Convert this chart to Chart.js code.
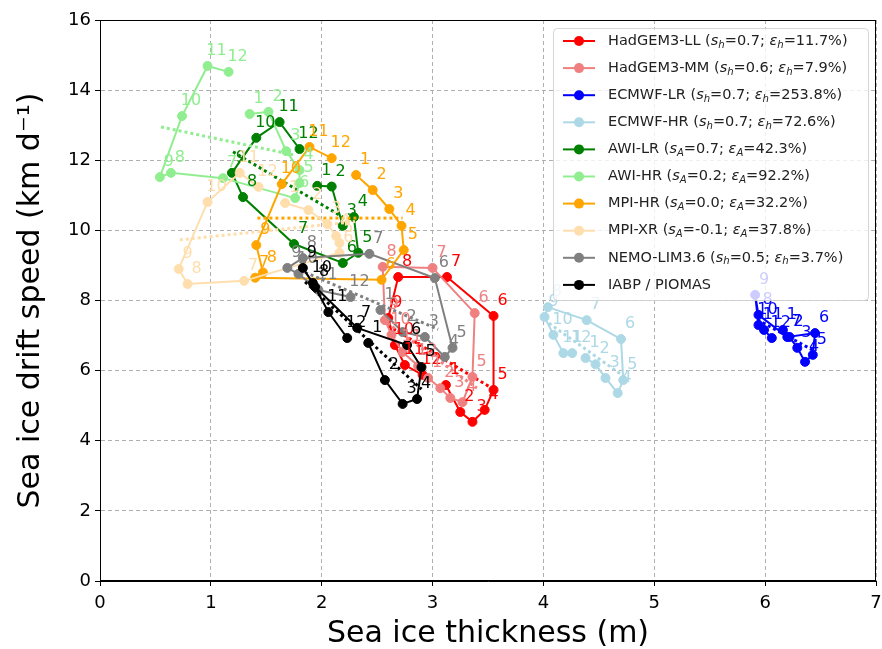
<!DOCTYPE html>
<html>
<head>
<meta charset="utf-8">
<script src="https://cdn.jsdelivr.net/npm/chart.js@4.4.1/dist/chart.umd.min.js"></script>
<style>
html, body { margin: 0; padding: 0; background: #fff; }
#wrap { width: 882px; height: 649px; }
</style>
</head>
<body>
<div id="wrap"><canvas id="chart" width="882" height="649"></canvas></div>
<script>
// month of each point, Jan..Dec
const months = [1, 2, 3, 4, 5, 6, 7, 8, 9, 10, 11, 12];

// thickness (m) and drift speed (km/d) per model, Jan..Dec
const hadLL_h = [3.12, 3.25, 3.36, 3.47, 3.55, 3.55, 3.13, 2.69, 2.60, 2.66, 2.75, 2.91];
const hadLL_v = [5.59, 4.82, 4.54, 4.88, 5.45, 7.56, 8.67, 8.67, 7.50, 6.73, 6.16, 5.88];
const hadMM_h = [2.96, 3.07, 3.16, 3.27, 3.36, 3.38, 3.00, 2.55, 2.57, 2.63, 2.73, 2.87];
const hadMM_v = [5.79, 5.50, 5.22, 5.10, 5.82, 7.64, 8.93, 8.96, 7.44, 7.02, 6.53, 6.13];
const ecLR_h = [6.16, 6.22, 6.29, 6.36, 6.43, 6.45, 6.20, 5.94, 5.91, 5.94, 5.99, 6.06];
const ecLR_v = [7.16, 6.96, 6.65, 6.25, 6.45, 7.07, 6.96, 7.59, 8.16, 7.30, 7.16, 6.93];
const ecHR_h = [4.38, 4.47, 4.56, 4.67, 4.72, 4.70, 4.39, 4.04, 4.01, 4.09, 4.18, 4.26];
const ecHR_v = [6.36, 6.18, 5.79, 5.36, 5.73, 6.90, 7.44, 7.81, 7.53, 7.02, 6.50, 6.50];
const awiLR_h = [1.96, 2.09, 2.19, 2.29, 2.33, 2.19, 1.75, 1.29, 1.19, 1.41, 1.62, 1.80];
const awiLR_v = [11.27, 11.25, 10.13, 10.38, 9.36, 9.07, 9.61, 10.95, 11.64, 12.64, 13.09, 12.32];
const awiHR_h = [1.35, 1.52, 1.68, 1.80, 1.80, 1.76, 1.11, 0.64, 0.54, 0.74, 0.97, 1.16];
const awiHR_v = [13.32, 13.38, 12.26, 11.72, 11.35, 10.92, 11.49, 11.64, 11.52, 13.26, 14.69, 14.52];
const mpiHR_h = [2.31, 2.46, 2.61, 2.72, 2.74, 2.54, 1.40, 1.47, 1.41, 1.64, 1.89, 2.09];
const mpiHR_v = [11.58, 11.15, 10.61, 10.13, 9.44, 8.59, 8.65, 8.80, 9.58, 11.32, 12.38, 12.06];
const mpiXR_h = [1.67, 1.88, 2.05, 2.13, 2.16, 2.16, 1.30, 0.79, 0.71, 0.97, 1.26, 1.43];
const mpiXR_v = [10.78, 10.58, 10.18, 9.84, 9.64, 9.36, 8.56, 8.47, 8.90, 10.81, 11.64, 11.24];
const nemo_h = [2.53, 2.73, 2.93, 3.11, 3.18, 3.02, 2.43, 1.83, 1.69, 1.79, 1.97, 2.26];
const nemo_v = [7.73, 7.10, 6.96, 6.39, 6.65, 8.64, 9.33, 9.21, 8.93, 8.76, 8.30, 8.10];
const iabp_h = [2.42, 2.57, 2.73, 2.86, 2.90, 2.77, 2.32, 1.94, 1.83, 1.92, 2.06, 2.23];
const iabp_v = [6.79, 5.73, 5.05, 5.19, 6.10, 6.73, 7.22, 8.39, 8.93, 8.50, 7.67, 6.93];

// fitted lines: end points (thickness, speed)
const fitLL_h = [2.60, 3.55], fitLL_v = [7.28, 5.47];
const fitMM_h = [2.55, 3.40], fitMM_v = [7.45, 5.50];
const fitEcLR_h = [5.93, 6.45], fitEcLR_v = [7.45, 6.55];
const fitEcHR_h = [4.05, 4.72], fitEcHR_v = [7.35, 5.85];
const fitAwiLR_h = [1.20, 2.19], fitAwiLR_v = [12.24, 10.38];
const fitAwiHR_h = [0.55, 1.75], fitAwiHR_v = [12.95, 12.15];
const fitMpiHR_h = [1.42, 2.73], fitMpiHR_v = [10.35, 10.35];
const fitMpiXR_h = [0.72, 2.30], fitMpiXR_v = [9.73, 10.25];
const fitNemo_h = [1.80, 3.05], fitNemo_v = [8.87, 7.18];
const fitIabp_h = [1.85, 2.90], fitIabp_v = [8.53, 5.47];

// legend
const names = ['HadGEM3-LL', 'HadGEM3-MM', 'ECMWF-LR', 'ECMWF-HR', 'AWI-LR', 'AWI-HR', 'MPI-HR', 'MPI-XR', 'NEMO-LIM3.6', 'IABP / PIOMAS'];
const statSym = ['h', 'h', 'h', 'h', 'A', 'A', 'A', 'A', 'h', null];
const statS = ['0.7', '0.6', '0.7', '0.7', '0.7', '0.2', '0.0', '-0.1', '0.5', null];
const statE = ['11.7', '7.9', '253.8', '72.6', '42.3', '92.2', '32.2', '37.8', '3.7', null];

const xTicks = [0, 1, 2, 3, 4, 5, 6, 7];
const yTicks = [0, 2, 4, 6, 8, 10, 12, 14, 16];

const colors = ['#ff0000', '#f08080', '#0000ff', '#add8e6', '#008000', '#90ee90', '#ffa500', '#ffdead', '#808080', '#000000'];

const series = [
  [hadLL_h, hadLL_v, fitLL_h, fitLL_v],
  [hadMM_h, hadMM_v, fitMM_h, fitMM_v],
  [ecLR_h, ecLR_v, fitEcLR_h, fitEcLR_v],
  [ecHR_h, ecHR_v, fitEcHR_h, fitEcHR_v],
  [awiLR_h, awiLR_v, fitAwiLR_h, fitAwiLR_v],
  [awiHR_h, awiHR_v, fitAwiHR_h, fitAwiHR_v],
  [mpiHR_h, mpiHR_v, fitMpiHR_h, fitMpiHR_v],
  [mpiXR_h, mpiXR_v, fitMpiXR_h, fitMpiXR_v],
  [nemo_h, nemo_v, fitNemo_h, fitNemo_v],
  [iabp_h, iabp_v, fitIabp_h, fitIabp_v]
];

const toPts = (xs, ys) => xs.map((x, i) => ({ x: x, y: ys[i] }));

const datasets = [];
series.forEach((s, i) => {
  datasets.push({
    data: toPts(s[0], s[1]),
    showLine: true,
    borderColor: colors[i],
    backgroundColor: colors[i],
    pointBorderColor: colors[i],
    borderWidth: 2,
    pointRadius: 4.5,
    pointBorderWidth: 1,
    isSeries: true
  });
  datasets.push({
    data: toPts(s[2], s[3]),
    showLine: true,
    borderColor: colors[i],
    borderWidth: 3,
    borderDash: [3, 3],
    pointRadius: 0
  });
});
datasets.forEach((d, i) => { d.order = -i; });

Chart.defaults.font.family = 'DejaVu Sans';
Chart.defaults.color = '#000';

// month numbers next to each point
const monthLabels = {
  id: 'monthLabels',
  afterDatasetsDraw(chart) {
    const ctx = chart.ctx;
    ctx.save();
    ctx.font = '16px DejaVu Sans';
    ctx.textAlign = 'center';
    ctx.textBaseline = 'middle';
    chart.data.datasets.forEach((ds, i) => {
      if (!ds.isSeries) return;
      chart.getDatasetMeta(i).data.forEach((pt, j) => {
        ctx.fillStyle = ds.borderColor;
        ctx.fillText(String(months[j]), pt.x + 9, pt.y - 15);
      });
    });
    // box around the axes
    const a = chart.chartArea;
    ctx.strokeStyle = '#000';
    ctx.lineWidth = 1;
    ctx.strokeRect(a.left + 0.5, a.top + 0.5, a.right - a.left - 1, a.bottom - a.top - 1);
    ctx.restore();
  }
};

function richText(ctx, x, y, parts, size) {
  parts.forEach(([t, m]) => {
    let dy = 0;
    if (m === 'n') ctx.font = size + 'px DejaVu Sans';
    else if (m === 'i') ctx.font = 'italic ' + size + 'px DejaVu Sans';
    else { ctx.font = 'italic ' + (size * 0.7).toFixed(1) + 'px DejaVu Sans'; dy = size * 0.28; }
    ctx.fillText(t, x, y + dy);
    x += ctx.measureText(t).width;
  });
}

const customLegend = {
  id: 'customLegend',
  afterDraw(chart) {
    const ctx = chart.ctx;
    const bx = 553, by = 28, bw = 315, bh = 272;
    ctx.save();
    ctx.beginPath();
    ctx.roundRect(bx + 0.5, by + 0.5, bw, bh, 4);
    ctx.fillStyle = 'rgba(255,255,255,0.8)';
    ctx.fill();
    ctx.strokeStyle = 'rgba(204,204,204,0.8)';
    ctx.lineWidth = 1;
    ctx.stroke();
    ctx.textBaseline = 'middle';
    ctx.textAlign = 'left';
    names.forEach((n, i) => {
      const y = 41 + i * 27.1;
      ctx.strokeStyle = colors[i];
      ctx.lineWidth = 2;
      ctx.beginPath();
      ctx.moveTo(563, y);
      ctx.lineTo(595, y);
      ctx.stroke();
      ctx.fillStyle = colors[i];
      ctx.beginPath();
      ctx.arc(579, y, 5, 0, Math.PI * 2);
      ctx.fill();
      ctx.fillStyle = '#222';
      const parts = statSym[i] === null ? [[n, 'n']] : [
        [n + ' (', 'n'], ['s', 'i'], [statSym[i], 's'], ['=' + statS[i] + '; ', 'n'],
        ['ε', 'i'], [statSym[i], 's'], ['=' + statE[i] + '%)', 'n']
      ];
      richText(ctx, 608, y, parts, 14.5);
    });
    ctx.restore();
  }
};

new Chart(document.getElementById('chart'), {
  type: 'scatter',
  data: { datasets: datasets },
  options: {
    responsive: false,
    animation: false,
    layout: { padding: { top: 20, right: 6, left: 0, bottom: 0 } },
    plugins: { legend: { display: false }, tooltip: { enabled: false } },
    scales: {
      x: {
        type: 'linear',
        min: 0, max: 7,
        afterBuildTicks: (s) => { s.ticks = xTicks.map(v => ({ value: v })); },
        afterFit: (s) => { s.height = 68; s.paddingRight = 0; s.paddingLeft = 0; },
        ticks: { font: { size: 18 }, padding: 7, color: '#000' },
        grid: { color: '#b0b0b0', tickColor: '#000', tickLength: 5, tickBorderDash: [] },
        border: { color: '#000', dash: [4, 3] },
        title: { display: true, text: 'Sea ice thickness (m)', font: { size: 30 }, padding: { top: 0, bottom: -3 } }
      },
      y: {
        type: 'linear',
        min: 0, max: 16,
        afterBuildTicks: (s) => { s.ticks = yTicks.map(v => ({ value: v })); },
        afterFit: (s) => { s.width = 100; s.paddingTop = 0; s.paddingBottom = 0; },
        ticks: { font: { size: 18 }, padding: 4, color: '#000' },
        grid: { color: '#b0b0b0', tickColor: '#000', tickLength: 5, tickBorderDash: [] },
        border: { color: '#000', dash: [4, 3] },
        title: { display: true, text: 'Sea ice drift speed (km d⁻¹)', font: { size: 30 }, padding: { top: 13, bottom: 0 } }
      }
    }
  },
  plugins: [monthLabels, customLegend]
});
</script>
</body>
</html>
